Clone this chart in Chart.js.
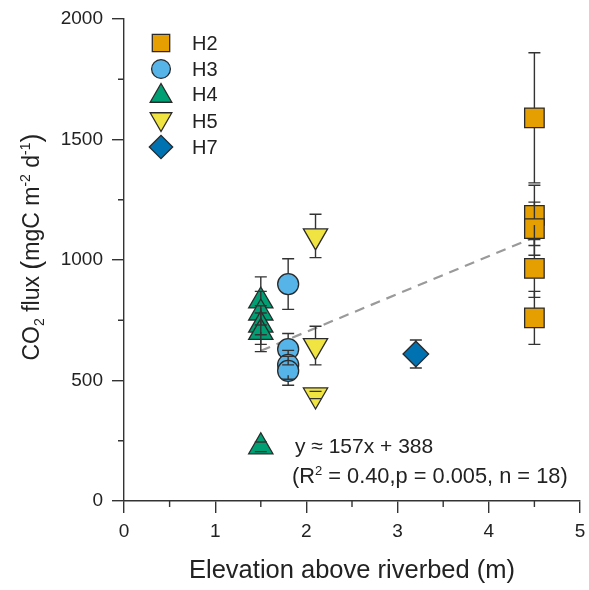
<!DOCTYPE html>
<html>
<head>
<meta charset="utf-8">
<script src="https://cdn.jsdelivr.net/npm/chart.js@4/dist/chart.umd.min.js"></script>
<style>
  html, body { margin: 0; padding: 0; background: #fff; }
</style>
</head>
<body>
<canvas id="fluxChart" width="589" height="590"></canvas>
<script>
// values
const seriesNames = ['H2', 'H3', 'H4', 'H5', 'H7'];

const h2Elev = [4.5, 4.5, 4.5, 4.5, 4.5];
const h2Flux = [1590, 1185, 1130, 965, 760];
const h2Err = [270, 125, 110, 120, 110];

const h3Elev = [1.8, 1.8, 1.8, 1.8];
const h3Flux = [900, 630, 565, 540];
const h3Err = [105, 65, 60, 60];

const h4Elev = [1.5, 1.5, 1.5, 1.5, 1.5];
const h4Flux = [830, 780, 730, 700, 225];
const h4Err = [100, 90, 80, 80, 20];

const h5Elev = [2.1, 2.1, 2.1];
const h5Flux = [1100, 645, 440];
const h5Err = [90, 80, 15];

const h7Elev = [3.2];
const h7Flux = [610];
const h7Err = [58];

const fitSlope = 157;
const fitIntercept = 388;
const fitRange = [1.5, 4.5];
const fitR2 = '0.40';
const fitP = '0.005';
const fitN = 18;

const xTicks = [0, 1, 2, 3, 4, 5];
const yTicks = [0, 500, 1000, 1500, 2000];

const FONT = "'Liberation Sans', Arial, sans-serif";
const INK = '#222';
const AXIS = '#333';

function pts(xs, ys) {
  return xs.map((x, i) => ({ x: x, y: ys[i] }));
}

// marker styles + gap so the error bar stops at the symbol edge
const styles = [
  { style: 'rect', radius: 13.8, color: '#E69F00', rotation: 0, gapUp: 9.7, gapDown: 9.7 },
  { style: 'circle', radius: 10.5, color: '#56B4E9', rotation: 0, gapUp: 10.5, gapDown: 10.5 },
  { style: 'triangle', radius: 14, color: '#009E73', rotation: 0, gapUp: 14, gapDown: 7 },
  { style: 'triangle', radius: 14, color: '#F0E442', rotation: 180, gapUp: 7, gapDown: 14 },
  { style: 'rectRot', radius: 12.8, color: '#0072B2', rotation: 0, gapUp: 12.8, gapDown: 12.8 }
];

const seriesData = [
  pts(h2Elev, h2Flux), pts(h3Elev, h3Flux), pts(h4Elev, h4Flux),
  pts(h5Elev, h5Flux), pts(h7Elev, h7Flux)
];
const seriesErr = [h2Err, h3Err, h4Err, h5Err, h7Err];

const datasets = seriesNames.map((name, i) => ({
  type: 'scatter',
  label: name,
  data: seriesData[i],
  errors: seriesErr[i],
  pointStyle: styles[i].style,
  pointRadius: styles[i].radius,
  pointRotation: styles[i].rotation,
  backgroundColor: styles[i].color,
  borderColor: '#2a2a2a',
  borderWidth: 1.3,
  order: 1
}));

datasets.push({
  type: 'line',
  label: 'fit',
  data: fitRange.map(x => ({ x: x, y: fitSlope * x + fitIntercept })),
  borderColor: '#9a9a9a',
  borderWidth: 2.2,
  borderDash: [10, 7],
  pointRadius: 0,
  fill: false,
  order: 10
});

const errorBars = {
  id: 'errorBars',
  afterDatasetDraw(chart, args) {
    const ds = chart.data.datasets[args.index];
    if (!ds.errors) return;
    const st = styles[args.index];
    const yScale = chart.scales.y;
    const ctx = chart.ctx;
    ctx.save();
    ctx.strokeStyle = AXIS;
    ctx.lineWidth = 1.4;
    args.meta.data.forEach((el, j) => {
      const v = ds.data[j].y, e = ds.errors[j];
      const top = yScale.getPixelForValue(v + e);
      const bot = yScale.getPixelForValue(v - e);
      const x = el.x, y = el.y;
      ctx.beginPath();
      if (top < y - st.gapUp) { ctx.moveTo(x, y - st.gapUp); ctx.lineTo(x, top); }
      if (bot > y + st.gapDown) { ctx.moveTo(x, y + st.gapDown); ctx.lineTo(x, bot); }
      ctx.moveTo(x - 6, top); ctx.lineTo(x + 6, top);
      ctx.moveTo(x - 6, bot); ctx.lineTo(x + 6, bot);
      ctx.stroke();
    });
    ctx.restore();
  }
};

function richWidth(ctx, parts) {
  // parts: [text, size, baseline shift]
  let w = 0;
  parts.forEach(p => { ctx.font = p[1] + 'px ' + FONT; w += ctx.measureText(p[0]).width; });
  return w;
}

function putRich(ctx, parts, x, y) {
  let cx = x;
  parts.forEach(p => {
    ctx.font = p[1] + 'px ' + FONT;
    ctx.fillText(p[0], cx, y + p[2]);
    cx += ctx.measureText(p[0]).width;
  });
}

const decorations = {
  id: 'decorations',
  afterDraw(chart) {
    const ctx = chart.ctx;
    const xs = chart.scales.x, ys = chart.scales.y;
    const area = chart.chartArea;
    ctx.save();

    // minor ticks
    ctx.strokeStyle = AXIS;
    ctx.lineWidth = 1.4;
    ctx.beginPath();
    for (let v = 250; v < 2000; v += 500) {
      const py = ys.getPixelForValue(v);
      ctx.moveTo(area.left, py); ctx.lineTo(area.left - 6, py);
    }
    for (let v = 0.5; v < 5; v += 1) {
      const px = xs.getPixelForValue(v);
      ctx.moveTo(px, area.bottom); ctx.lineTo(px, area.bottom + 6);
    }
    ctx.stroke();

    // legend
    const rowsY = [43, 69, 94, 121, 147];
    const legendSize = [12.3, 9.4, 12.5, 12.5, 11.7];
    ctx.textBaseline = 'middle';
    ctx.textAlign = 'left';
    seriesNames.forEach((name, i) => {
      const st = styles[i];
      ctx.fillStyle = st.color;
      ctx.strokeStyle = '#2a2a2a';
      ctx.lineWidth = 1.3;
      Chart.helpers.drawPoint(ctx, {
        pointStyle: st.style, radius: legendSize[i], rotation: st.rotation, borderWidth: 1.3
      }, 161, rowsY[i] + (st.style === 'triangle' ? (st.rotation ? -2 : 2) : 0));
      ctx.fillStyle = INK;
      ctx.font = '20px ' + FONT;
      ctx.fillText(name, 192, rowsY[i] + 1);
    });

    // regression annotation
    ctx.textBaseline = 'alphabetic';
    ctx.fillStyle = INK;
    ctx.font = '21px ' + FONT;
    ctx.fillText('y \u2248 ' + fitSlope + 'x + ' + fitIntercept, 295, 453);
    putRich(ctx, [
      ['(R', 21.8, 0], ['2', 13, -8],
      [' = ' + fitR2 + ',p = ' + fitP + ', n = ' + fitN + ')', 21.8, 0]
    ], 292, 483);

    // x axis title
    ctx.font = '25.5px ' + FONT;
    ctx.textAlign = 'center';
    ctx.fillText('Elevation above riverbed (m)', (area.left + area.right) / 2, 578);

    // y axis title
    const yParts = [
      ['CO', 23, 0], ['2', 14, 5], [' flux ', 23, 0], ['(', 27, 1],
      ['mgC m', 23, 0], ['-2', 14, -9], [' d', 23, 0], ['-1', 14, -9], [')', 27, 1]
    ];
    ctx.textAlign = 'left';
    const w = richWidth(ctx, yParts);
    ctx.translate(39, 247);
    ctx.rotate(-Math.PI / 2);
    putRich(ctx, yParts, -w / 2, 0);
    ctx.restore();
  }
};

const ctxEl = document.getElementById('fluxChart').getContext('2d');
new Chart(ctxEl, {
  data: { datasets: datasets },
  options: {
    responsive: false,
    animation: false,
    layout: { autoPadding: false, padding: { top: 19, right: 9, left: 0, bottom: 0 } },
    plugins: { legend: { display: false }, tooltip: { enabled: false } },
    scales: {
      x: {
        type: 'linear',
        min: xTicks[0],
        max: xTicks[xTicks.length - 1],
        afterFit: s => { s.height = 89; s.paddingRight = 0; s.paddingLeft = 0; },
        border: { color: AXIS, width: 1.4 },
        grid: {
          drawOnChartArea: false,
          tickLength: 12,
          lineWidth: 1.4,
          tickColor: AXIS
        },
        ticks: {
          stepSize: 1,
          autoSkip: false,
          maxRotation: 0,
          padding: 7,
          color: INK,
          font: { family: FONT, size: 19 },
          callback: v => xTicks.includes(v) ? v : ''
        }
      },
      y: {
        type: 'linear',
        min: yTicks[0],
        max: yTicks[yTicks.length - 1],
        afterFit: s => { s.width = 124; s.paddingTop = 0; s.paddingBottom = 0; },
        border: { color: AXIS, width: 1.4 },
        grid: {
          drawOnChartArea: false,
          tickLength: 12,
          lineWidth: 1.4,
          tickColor: AXIS
        },
        ticks: {
          stepSize: 500,
          autoSkip: false,
          padding: 9,
          color: INK,
          font: { family: FONT, size: 19 },
          callback: v => yTicks.includes(v) ? v : ''
        }
      }
    }
  },
  plugins: [errorBars, decorations]
});
</script>
</body>
</html>
